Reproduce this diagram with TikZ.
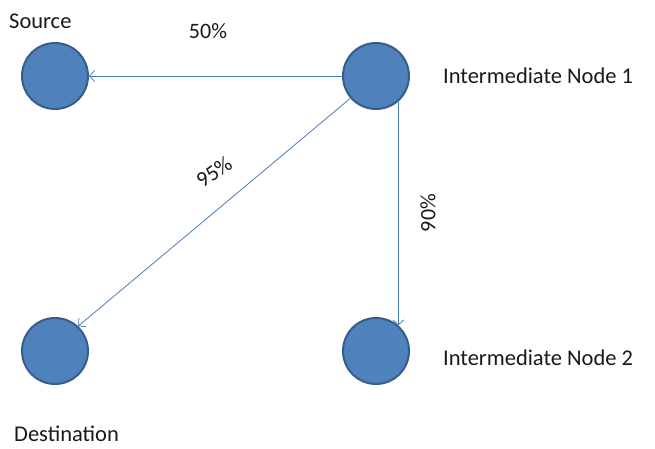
\documentclass[tikz,border=0pt]{standalone}
\usepackage{fontspec}
\setmainfont{Carlito}
\usetikzlibrary{arrows.meta}
\definecolor{nodefill}{HTML}{4F81BD}
\definecolor{nodeline}{HTML}{385D8A}
\definecolor{edgeline}{HTML}{4A7EBB}
\definecolor{labeltext}{HTML}{1A1A1A}
\begin{document}
\begin{tikzpicture}[x=1pt,y=-1pt,
  netnode/.style={circle,fill=nodefill,draw=nodeline,line width=2pt,minimum size=66pt,inner sep=0pt},
  link/.style={draw=edgeline,line width=0.8pt,-{Straight Barb[length=5pt,width=11pt,line width=0.8pt]}},
  caption/.style={font=\fontsize{22.5}{26}\selectfont,text=labeltext,inner sep=0pt},
  pct/.style={font=\fontsize{22}{26}\selectfont,text=labeltext,inner sep=0pt}]
  \useasboundingbox (0,0) rectangle (655,449);
  \fill[white] (0,0) rectangle (655,449);

  % nodes of the network
  \node[netnode] (src) at (55,76) {};
  \node[netnode] (im1) at (376,76) {};
  \node[netnode] (dst) at (55,351) {};
  \node[netnode] (im2) at (376,351) {};

  % node captions
  \node[caption,anchor=west] (srcl) at (9,21) {Source};
  \node[caption,anchor=west] (im1l) at (443,76) {Intermediate Node 1};
  \node[caption,anchor=west] (im2l) at (443,358) {Intermediate Node 2};
  \node[caption,anchor=west] (dstl) at (14,434) {Destination};

  % directed links
  \draw[link] (im1.west) -- (src.east);
  \draw[link] (im1.221) -- (dst.47);
  \draw[link] (im1.-49) -- (im2.49);

  % link percentages
  \node[pct] (p50) at (208,31) {50\%};
  \node[pct,rotate=35] (p95) at (214,172) {95\%};
  \node[pct,rotate=90] (p90) at (428,213) {90\%};
\end{tikzpicture}
\end{document}
